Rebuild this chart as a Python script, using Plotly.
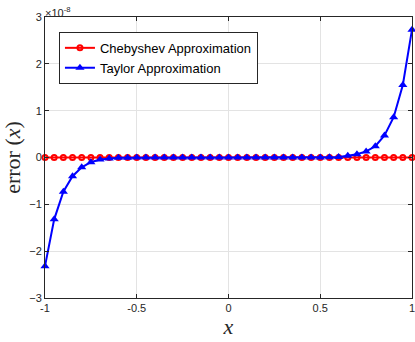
import plotly.graph_objects as go

x_vals = [round(-1 + 0.05 * i, 2) for i in range(41)]

# values in units of 1e-8
taylor_err = [-2.32, -1.32, -0.73, -0.40, -0.21, -0.10, -0.045, -0.02, -0.008, -0.003,
              -0.001, 0.0, 0.0, 0.0, 0.0, 0.0, 0.0, 0.0, 0.0, 0.0,
              0.0, 0.0, 0.0, 0.0, 0.0, 0.0, 0.0, 0.0, 0.0, 0.0,
              0.001, 0.003, 0.01, 0.036, 0.07, 0.13, 0.24, 0.47, 0.86, 1.55, 2.73]
cheb_err = [0.0] * 41

y_ticks = [-3, -2, -1, 0, 1, 2, 3]
x_ticks = [-1, -0.5, 0, 0.5, 1]
x_tick_labels = ["-1", "-0.5", "0", "0.5", "1"]

fig = go.Figure()
fig.add_trace(go.Scatter(
    x=x_vals, y=cheb_err, mode="lines+markers", name="Chebyshev Approximation",
    line=dict(color="#ff0000", width=2),
    marker=dict(symbol="circle-open", size=5, color="#ff0000", line=dict(width=2)),
    cliponaxis=False,
))
fig.add_trace(go.Scatter(
    x=x_vals, y=taylor_err, mode="lines+markers", name="Taylor Approximation",
    line=dict(color="#0000ff", width=2),
    marker=dict(symbol="triangle-up", size=8, color="#0000ff"),
    cliponaxis=False,
))

axis_common = dict(
    showgrid=True, gridcolor="#e3e3e3", gridwidth=1,
    showline=True, linecolor="#262626", linewidth=1, mirror="ticks",
    ticks="inside", ticklen=4, tickcolor="#262626",
    zeroline=False, automargin=False, ticklabeloverflow="allow",
    tickfont=dict(family="Liberation Sans, Arial", size=11, color="#262626"),
)

fig.update_layout(
    width=415, height=342,
    margin=dict(l=45, r=3, t=17, b=44),
    paper_bgcolor="white", plot_bgcolor="white",
    xaxis=dict(range=[-1, 1], tickvals=x_ticks, ticktext=x_tick_labels,
               title=dict(text="<i>x</i>", font=dict(family="Liberation Serif", size=22, color="#262626"), standoff=4),
               **axis_common),
    yaxis=dict(range=[-3, 3], tickvals=y_ticks,
               title=dict(text="error (<i>x</i>)", font=dict(family="Liberation Serif", size=22, color="#262626"), standoff=8),
               **axis_common),
    legend=dict(x=0.038, y=0.947, xanchor="left", yanchor="top",
                bgcolor="white", bordercolor="#262626", borderwidth=1,
                font=dict(family="Liberation Sans, Arial", size=13, color="black"),
                tracegroupgap=0, itemwidth=30),
    showlegend=True,
    annotations=[dict(x=0, y=1, xref="paper", yref="paper", xanchor="left", yanchor="bottom",
                      text="×10<sup>-8</sup>", showarrow=False,
                      font=dict(family="Liberation Sans, Arial", size=11, color="#262626"),
                      xshift=-2, yshift=-4)],
)

fig.write_html(
    "out.html",
    config={"displayModeBar": False},
    post_script="document.body.style.margin='0';document.body.style.overflow='hidden';",
)
